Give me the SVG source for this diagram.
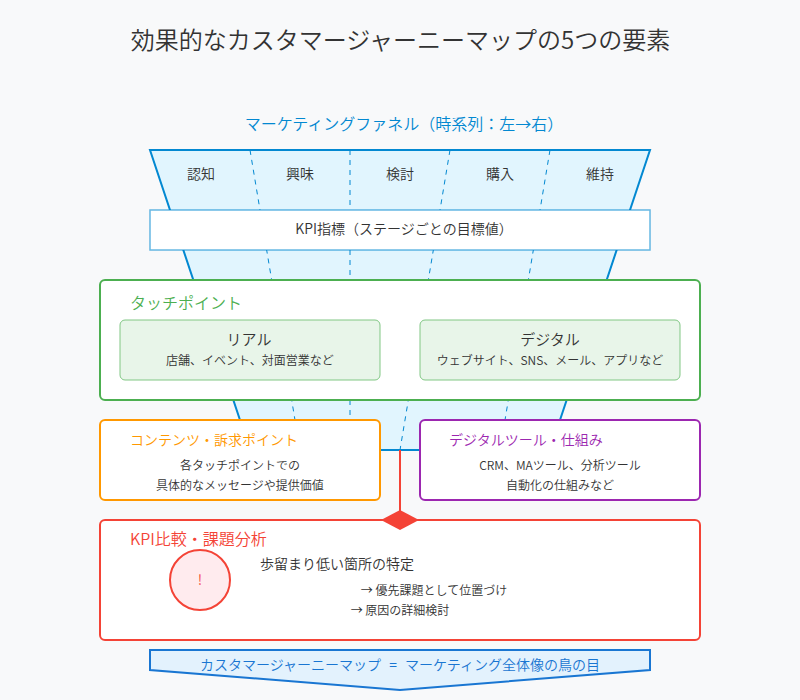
<svg xmlns="http://www.w3.org/2000/svg" width="800" height="700" viewBox="0 0 800 700">
<style>
text{font-family:"Noto Sans CJK JP","Noto Sans",sans-serif;font-weight:350;fill:#333}
.m{text-anchor:middle}
.s12{font-size:12px}.s14{font-size:14px}.s15{font-size:15px}.s16{font-size:16px}.s24{font-size:24px}
.box{fill:#fff;stroke-width:2}
.sub{fill:#e8f5e9;stroke:#81c784;stroke-width:1}
.d{stroke:#0288d1;stroke-width:1;stroke-dasharray:5,5;fill:none}
</style>
<rect width="800" height="700" fill="#f8f9fa"/>
<text class="m s24" x="400.5" y="49">効果的なカスタマージャーニーマップの5つの要素</text>
<g id="funnel">
<polygon points="150,150 650,150 550,450 250,450" fill="#e1f5fe" stroke="#0288d1" stroke-width="2"/>
<g id="funnel-dividers">
<line class="d" x1="250" y1="150" x2="300" y2="450"/>
<line class="d" x1="350" y1="150" x2="350" y2="450"/>
<line class="d" x1="450" y1="150" x2="400" y2="450"/>
<line class="d" x1="550" y1="150" x2="500" y2="450"/>
</g>
<text class="m s16" x="404" y="130" style="fill:#0288d1">マーケティングファネル（時系列：左→右）</text>
<text class="m s14" x="201" y="179">認知</text>
<text class="m s14" x="300" y="179">興味</text>
<text class="m s14" x="400" y="179">検討</text>
<text class="m s14" x="500" y="179">購入</text>
<text class="m s14" x="600" y="179">維持</text>
</g>
<g id="kpi-bar">
<rect x="150" y="210" width="500" height="40" fill="#fff" stroke="#0288d1" stroke-opacity=".6" stroke-width="1.5"/>
<text class="m s14" x="404" y="234">KPI指標（ステージごとの目標値）</text>
</g>
<g id="touchpoints">
<rect class="box" x="100" y="280" width="600" height="120" rx="5" stroke="#4caf50"/>
<text class="s16" x="130" y="309" style="fill:#4caf50">タッチポイント</text>
<rect class="sub" x="120" y="320" width="260" height="60" rx="5"/>
<text class="m s15" x="249" y="345">リアル</text>
<text class="m s12" x="250" y="365">店舗、イベント、対面営業など</text>
<rect class="sub" x="420" y="320" width="260" height="60" rx="5"/>
<text class="m s15" x="550" y="345">デジタル</text>
<text class="m s12" x="550" y="365">ウェブサイト、SNS、メール、アプリなど</text>
</g>
<g id="contents">
<rect class="box" x="100" y="420" width="280" height="80" rx="5" stroke="#ff9800"/>
<text class="s14" x="130" y="445" style="fill:#ff9800">コンテンツ・訴求ポイント</text>
<text class="m s12" x="240" y="470">各タッチポイントでの</text>
<text class="m s12" x="240" y="490">具体的なメッセージや提供価値</text>
</g>
<g id="tools">
<rect class="box" x="420" y="420" width="280" height="80" rx="5" stroke="#9c27b0"/>
<text class="s14" x="449" y="445" style="fill:#9c27b0">デジタルツール・仕組み</text>
<text class="m s12" x="560" y="470">CRM、MAツール、分析ツール</text>
<text class="m s12" x="560" y="490">自動化の仕組みなど</text>
</g>
<g id="analysis">
<rect class="box" x="100" y="520" width="600" height="120" rx="5" stroke="#f44336"/>
<text class="s16" x="130" y="545" style="fill:#f44336">KPI比較・課題分析</text>
<circle cx="200" cy="580" r="30" fill="#ffebee" stroke="#f44336" stroke-width="2"/>
<text class="m s14" x="200" y="585" style="fill:#f44336">!</text>
<text class="s14" x="260" y="569">歩留まり低い箇所の特定</text>
<text class="m s12" x="434" y="595">→ 優先課題として位置づけ</text>
<text class="m s12" x="400" y="615">→ 原因の詳細検討</text>
</g>
<g id="connectors">
<line x1="400" y1="450" x2="400" y2="520" stroke="#f44336" stroke-width="2"/>
<polygon points="381,520 400,510 419,520 400,530" fill="#f44336"/>
</g>
<g id="summary">
<polygon points="150,650 650,650 650,670 400,690 150,670" fill="#e3f2fd" stroke="#1976d2" stroke-width="2"/>
<text class="m s14" x="400" y="670" style="fill:#1976d2;word-spacing:5px">カスタマージャーニーマップ = マーケティング全体像の鳥の目</text>
</g>
</svg>
